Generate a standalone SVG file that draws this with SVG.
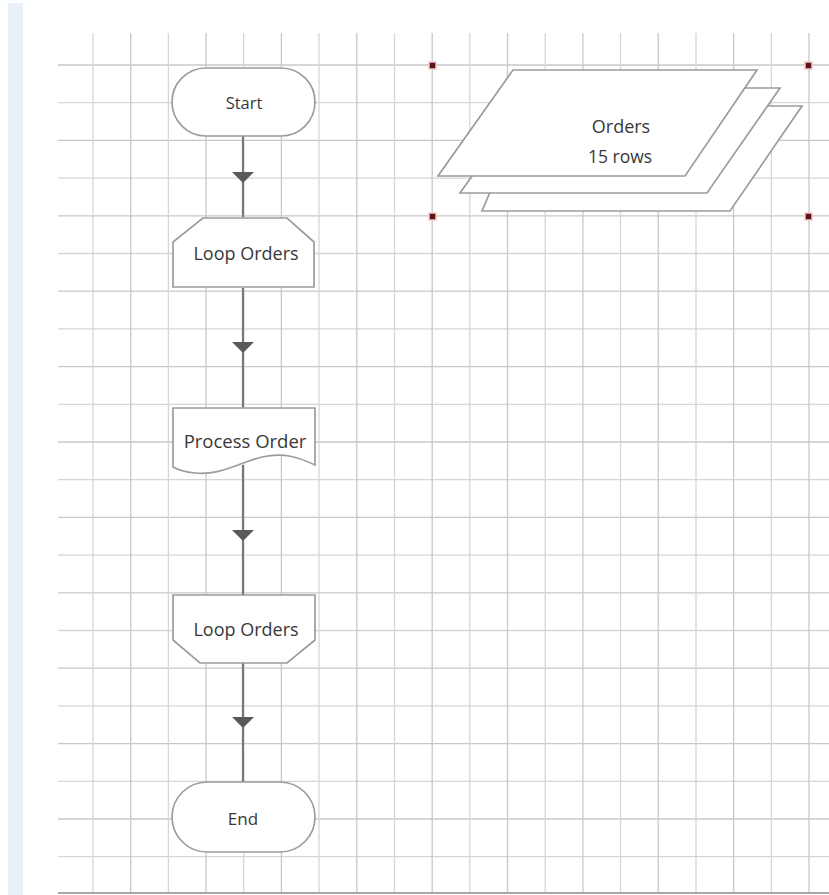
<svg xmlns="http://www.w3.org/2000/svg" width="829" height="895" viewBox="0 0 829 895">
<style>
.g{stroke:#d6d6d6;stroke-width:1.3}
.gd{stroke:#c8c8c8;stroke-width:1.3}
.shape{fill:#fff;stroke:#9c9c9c;stroke-width:1.7}
.conn{stroke:#777;stroke-width:2.2;fill:none}
.t{font-family:"Open Sans","Noto Sans",sans-serif;fill:#383838;text-anchor:middle}
.handle{fill:#5a1518;stroke:#f2c8cc;stroke-width:1.5}
</style>
<defs>
<marker id="arr" viewBox="0 0 11 22" refX="11" refY="11" markerWidth="11" markerHeight="22" markerUnits="userSpaceOnUse" orient="auto">
<path d="M0,0 L11,11 L0,22 Z" fill="#595959"/>
</marker>
</defs>
<rect width="829" height="895" fill="#fff"/>
<rect x="8" y="3" width="15" height="892" fill="#eaf0f8"/>
<g id="grid">
<g class="gd"><line x1="58" y1="65" x2="829" y2="65"/><line x1="58" y1="140.4" x2="829" y2="140.4"/><line x1="58" y1="215.8" x2="829" y2="215.8"/><line x1="58" y1="291.2" x2="829" y2="291.2"/><line x1="58" y1="366.6" x2="829" y2="366.6"/><line x1="58" y1="442" x2="829" y2="442"/><line x1="58" y1="517.4" x2="829" y2="517.4"/><line x1="58" y1="592.8" x2="829" y2="592.8"/><line x1="58" y1="668.2" x2="829" y2="668.2"/><line x1="58" y1="743.6" x2="829" y2="743.6"/><line x1="58" y1="819" x2="829" y2="819"/></g>
<g class="g"><line x1="58" y1="102.7" x2="829" y2="102.7"/><line x1="58" y1="178.1" x2="829" y2="178.1"/><line x1="58" y1="253.5" x2="829" y2="253.5"/><line x1="58" y1="328.9" x2="829" y2="328.9"/><line x1="58" y1="404.3" x2="829" y2="404.3"/><line x1="58" y1="479.7" x2="829" y2="479.7"/><line x1="58" y1="555.1" x2="829" y2="555.1"/><line x1="58" y1="630.5" x2="829" y2="630.5"/><line x1="58" y1="705.9" x2="829" y2="705.9"/><line x1="58" y1="781.3" x2="829" y2="781.3"/><line x1="58" y1="856.7" x2="829" y2="856.7"/></g>
<g class="g"><line x1="93" y1="33" x2="93" y2="893"/><line x1="168.4" y1="33" x2="168.4" y2="893"/><line x1="243.7" y1="33" x2="243.7" y2="893"/><line x1="319" y1="33" x2="319" y2="893"/><line x1="394.5" y1="33" x2="394.5" y2="893"/><line x1="469.8" y1="33" x2="469.8" y2="893"/><line x1="545.2" y1="33" x2="545.2" y2="893"/><line x1="620.5" y1="33" x2="620.5" y2="893"/><line x1="696" y1="33" x2="696" y2="893"/><line x1="771.3" y1="33" x2="771.3" y2="893"/></g>
<g class="gd"><line x1="130.7" y1="33" x2="130.7" y2="893"/><line x1="206" y1="33" x2="206" y2="893"/><line x1="281.4" y1="33" x2="281.4" y2="893"/><line x1="356.8" y1="33" x2="356.8" y2="893"/><line x1="432.2" y1="33" x2="432.2" y2="893"/><line x1="507.5" y1="33" x2="507.5" y2="893"/><line x1="582.9" y1="33" x2="582.9" y2="893"/><line x1="658.2" y1="33" x2="658.2" y2="893"/><line x1="733.6" y1="33" x2="733.6" y2="893"/><line x1="809" y1="33" x2="809" y2="893"/></g>
<line x1="58" y1="893" x2="829" y2="893" stroke="#a8a8a8" stroke-width="2"/>
</g>
<g id="connectors">
<path class="conn" d="M243 136 L243 183 L243 217" marker-mid="url(#arr)"/>
<path class="conn" d="M243 288 L243 353 L243 408" marker-mid="url(#arr)"/>
<path class="conn" d="M243 465 L243 541 L243 595" marker-mid="url(#arr)"/>
<path class="conn" d="M243 663 L243 728 L243 782" marker-mid="url(#arr)"/>
</g>
<g id="start">
<rect class="shape" x="172" y="68" width="143" height="68" rx="34"/>
<text class="t" x="244" y="109" font-size="16.5">Start</text>
</g>
<g id="loop-start">
<path class="shape" d="M203 218 H287 L314 242 V287 H173 V242 Z"/>
<text class="t" x="246" y="260" font-size="18">Loop Orders</text>
</g>
<g id="process-order">
<path class="shape" d="M173 408 H315 V465 C300 458 285 452 262 457 C240 462 220 476 195 473 C185 472 178 470 173 467 Z"/>
<text class="t" x="245" y="448" font-size="18.5">Process Order</text>
</g>
<g id="loop-end">
<path class="shape" d="M173 595 H315 V640 L287 663 H200 L173 640 Z"/>
<text class="t" x="246" y="636" font-size="18">Loop Orders</text>
</g>
<g id="end">
<rect class="shape" x="172" y="782" width="143" height="70" rx="35"/>
<text class="t" x="243" y="825" font-size="17">End</text>
</g>
<g id="orders">
<path class="shape" d="M527 106 H802 L730 211 H482 Z"/>
<path class="shape" d="M535 88 H780 L707 193 H460 Z"/>
<path class="shape" d="M513 70 H757 L685 176 H438 Z"/>
<text class="t" x="621" y="133" font-size="18">Orders</text>
<text class="t" x="620" y="163" font-size="17.5">15 rows</text>
<rect class="handle" x="429" y="62" width="7" height="7"/>
<rect class="handle" x="805" y="62" width="7" height="7"/>
<rect class="handle" x="429" y="213" width="7" height="7"/>
<rect class="handle" x="805" y="213" width="7" height="7"/>
</g>
</svg>
